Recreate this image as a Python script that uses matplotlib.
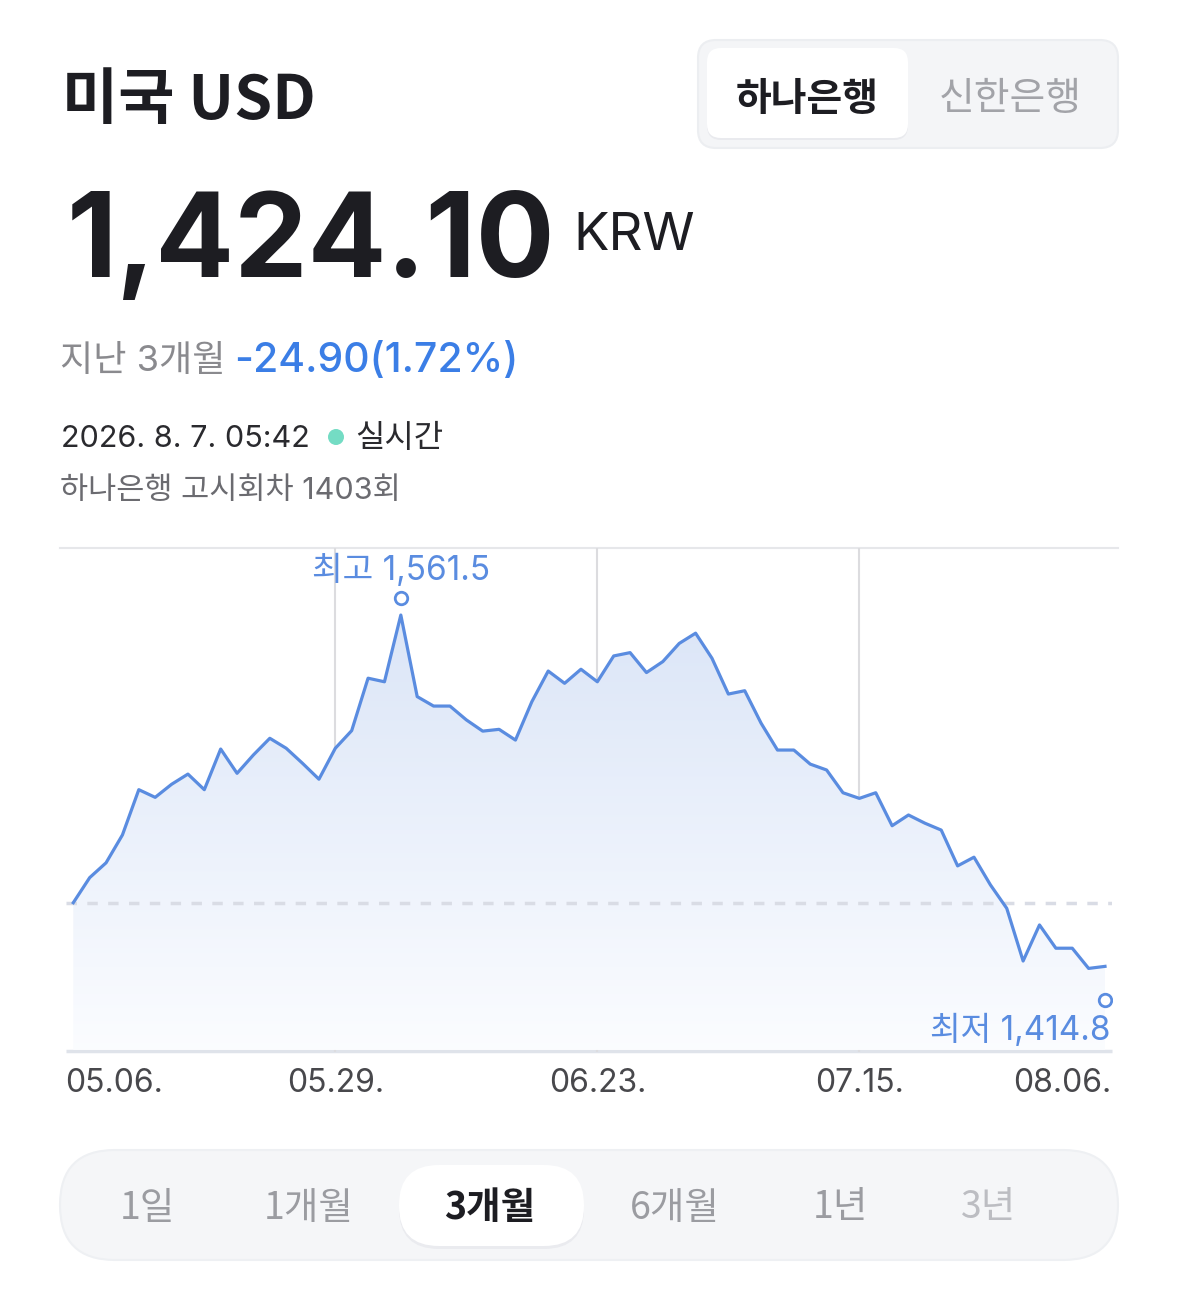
import numpy as np
import matplotlib
matplotlib.use('Agg')
import matplotlib.pyplot as plt
from matplotlib.patches import FancyBboxPatch, Circle
from matplotlib.transforms import blended_transform_factory, ScaledTranslation

plt.rcParams['font.family'] = ['Inter', 'Noto Sans CJK KR', 'DejaVu Sans']
KR = ['Noto Sans CJK KR', 'DejaVu Sans']

# data (daily rate, KRW per USD)
rates = [1449.0, 1458.8, 1464.6, 1475.5, 1493.2, 1490.2, 1495.3, 1499.3, 1493.2, 1509.1,
         1499.6, 1506.8, 1513.3, 1509.4, 1503.5, 1497.3, 1509.4, 1516.3, 1536.8, 1535.4,
         1561.5, 1529.6, 1525.9, 1525.9, 1520.5, 1516.1, 1516.8, 1512.6, 1527.6, 1539.6,
         1534.8, 1540.3, 1535.4, 1545.5, 1546.8, 1539.0, 1543.3, 1550.4, 1554.4, 1544.6,
         1530.6, 1531.9, 1519.2, 1508.7, 1508.7, 1503.2, 1500.9, 1492.0, 1489.8, 1492.0,
         1479.1, 1483.3, 1480.1, 1477.4, 1463.4, 1466.8, 1456.0, 1446.8, 1426.2, 1440.3,
         1431.2, 1431.2, 1423.3, 1424.1]
tick_idx = [0, 16, 32, 48, 63]
tick_labels = ['05.06.', '05.29.', '06.23.', '07.15.', '08.06.']
grid_idx = [16, 32, 48]
base_rate = 1449.0
high_label = '최고 1,561.5'
low_label = '최저 1,414.8'
low_rate = 1414.8
periods = ['1일', '1개월', '3개월', '6개월', '1년', '3년']
period_x = [147, 309, 490, 675, 840, 989]
banks = ['하나은행', '신한은행']

W, H = 1179, 1298
fig = plt.figure(figsize=(W / 100, H / 100), dpi=100)
fig.patch.set_facecolor('white')

# overlay axes in pixel coordinates for the app-style header and buttons
ui = fig.add_axes([0, 0, 1, 1], zorder=0)
ui.set_xlim(0, W)
ui.set_ylim(H, 0)
ui.axis('off')
ui.patch.set_alpha(0)


def rbox(x0, y0, x1, y1, r, fc, ec='none', lw=0, z=1):
    p = FancyBboxPatch((x0, y0), x1 - x0, y1 - y0,
                       boxstyle=f'round,pad=0,rounding_size={r}',
                       fc=fc, ec=ec, lw=lw, zorder=z)
    ui.add_patch(p)


dark = '#1d1d22'
blue = '#3b7ee6'

ui.text(62, 101, '미국 USD', fontsize=44, fontweight='bold', color=dark, va='center', ha='left',
        family=KR)
ui.text(67, 246, '1,424.10', fontsize=84, fontweight='bold', color=dark, va='center', ha='left')
ui.text(573, 236, 'KRW', fontsize=38, color=dark, va='center', ha='left')

ui.text(60, 361, '지난 3개월', fontsize=26, color='#8a8a8e', va='center', ha='left')
ui.text(234, 361, '-24.90(1.72%)', fontsize=29.5, fontweight='medium', color=blue,
        va='center', ha='left')

ui.text(61, 439, '2026. 8. 7. 05:42', fontsize=22, color='#2a2a2e', va='center', ha='left')
ui.add_patch(Circle((336, 437), 8, fc='#74dcc4', ec='none', zorder=3))
ui.text(355, 439, '실시간', fontsize=23, color='#2a2a2e', va='center', ha='left')
ui.text(60, 491, '하나은행 고시회차 1403회', fontsize=22, color='#6b6b70', va='center', ha='left')

# bank toggle
rbox(698, 40, 1118, 148, 18, '#f4f5f7', ec='#eceef1', lw=1.5)
rbox(707, 51, 908, 140, 14, '#e9eaee', z=2)
rbox(707, 48, 908, 138, 14, 'white', z=3)
ui.text(807, 99, banks[0], fontsize=28, fontweight='bold', color=dark, va='center', ha='center',
        zorder=4, family=KR)
ui.text(1010, 99, banks[1], fontsize=28, color='#a2a3a8', va='center', ha='center',
        zorder=4, family=KR)

# period selector
rbox(60, 1150, 1118, 1260, 55, '#f5f6f8', ec='#eef0f3', lw=1.5)
rbox(399, 1168, 584, 1249, 40, '#eaebef', z=2)
rbox(399, 1165, 584, 1246, 40, 'white', z=3)
for lbl, px in zip(periods, period_x):
    sel = lbl == '3개월'
    col = dark if sel else ('#bcbdc2' if lbl == '3년' else '#9b9ca1')
    ui.text(px, 1208, lbl, fontsize=27, fontweight='bold' if sel else 'normal',
            color=col, va='center', ha='center', zorder=4, family=KR)

# top separator line of the chart
ui.plot([60, 1118], [548, 548], color='#e6e7ea', lw=1.5, zorder=1)
# bottom axis line
ui.plot([66, 1112], [1051, 1051], color='#dfe3ea', lw=2.5, zorder=1, solid_capstyle='butt')

# chart axes
left, right, top, bottom = 66, 1112, 548, 1052
ax = fig.add_axes([left / W, 1 - bottom / H, (right - left) / W, (bottom - top) / H], zorder=1)
ax.patch.set_alpha(0)
x = np.arange(len(rates))
step = 16.376
ax.set_xlim(-(73.3 - left) / step, 63 + (right - 1105) / step)
scale = 2.557
ax.set_ylim(base_rate - (bottom - 902.7) / scale, base_rate + (902.7 - top) / scale)
for s in ax.spines.values():
    s.set_visible(False)
ax.set_xticks([])
ax.set_yticks([])
ylo, yhi = ax.get_ylim()

for gi in grid_idx:
    ax.axvline(gi, color='#dcdcdf', lw=1.5, zorder=1)

ax.axhline(base_rate, color='#d9dce5', lw=2.5, ls=(0, (3, 3)), zorder=2)

# gradient fill under the line
poly = ax.fill_between(x, rates, ylo + 0.8, color='none', lw=0)
grad = np.linspace(0, 1, 256).reshape(-1, 1)
c_top = np.array([0.86, 0.90, 0.97])
c_bot = np.array([0.985, 0.99, 1.0])
img = c_top[None, None, :] * (1 - grad[:, :, None]) + c_bot[None, None, :] * grad[:, :, None]
im = ax.imshow(img, extent=[x[0], x[-1], ylo, max(rates)], aspect='auto', origin='upper',
               zorder=1, interpolation='bilinear')
im.set_clip_path(poly.get_paths()[0], transform=ax.transData)

line_c = '#5a8ce0'
ax.plot(x, rates, color=line_c, lw=2.3, zorder=3)

# high / low markers
hi_i = int(np.argmax(rates))
ax.plot([hi_i], [rates[hi_i]], marker='o', ms=9, mfc='white', mec=line_c, mew=2,
        transform=ax.transData + ScaledTranslation(0, 17 / 100, fig.dpi_scale_trans), zorder=4)
ax.annotate(high_label, xy=(hi_i, rates[hi_i]), xytext=(0, 45), textcoords='offset pixels',
            ha='center', va='center', fontsize=24, color=line_c)
lo_i = len(rates) - 1
ax.plot([lo_i], [low_rate], marker='o', ms=9, mfc='white', mec=line_c, mew=2,
        transform=ax.transData + ScaledTranslation(0, -10 / 100, fig.dpi_scale_trans), zorder=4)
ax.annotate(low_label, xy=(lo_i, low_rate), xytext=(6, -40), textcoords='offset pixels',
            ha='right', va='center', fontsize=24, color=line_c)

# x labels
tr = blended_transform_factory(ax.transData, ax.transAxes)
for i, lbl in zip(tick_idx, tick_labels):
    if i == tick_idx[0]:
        ha, dx = 'left', -8
    elif i == tick_idx[-1]:
        ha, dx = 'right', 6
    else:
        ha, dx = 'center', 0
    ax.annotate(lbl, xy=(i, 0), xycoords=tr, xytext=(dx, -32), textcoords='offset pixels',
                ha=ha, va='center', fontsize=23, color='#48484c')

fig.savefig('out.png', dpi=100, facecolor='white')
